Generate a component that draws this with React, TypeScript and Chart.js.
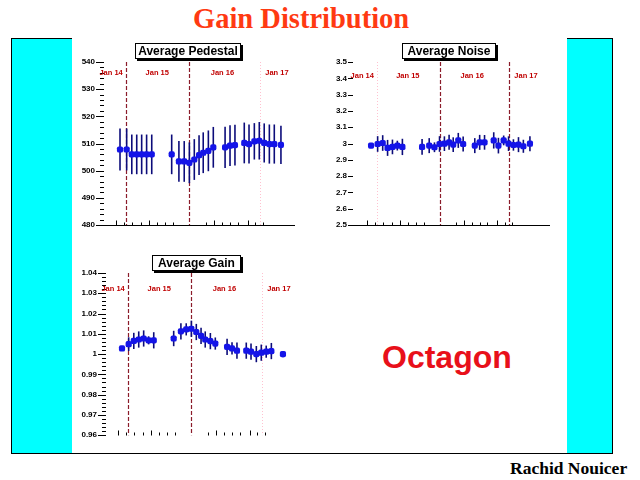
import React, { useEffect, useRef } from 'react';
import { Chart, registerables } from 'chart.js';

Chart.register(...registerables);

// run positions along the time axis (pedestal axis spans 0..100)
const runX = [7.9, 11.4, 14.1, 16.7, 19.3, 21.9, 24.6, 35.1, 38.9, 41.7, 44.4, 47.0, 49.5, 51.7, 54.4, 57.0, 63.2, 65.8, 68.4, 73.3, 75.8, 78.6, 81.2, 83.8, 86.5, 89.1, 92.6];

const pedestal = [507.8, 507.8, 506.0, 506.0, 506.0, 506.0, 506.0, 506.0, 503.4, 503.4, 502.9, 504.1, 505.7, 506.6, 507.3, 508.6, 508.6, 509.2, 509.4, 510.2, 509.8, 510.8, 511.0, 510.2, 509.8, 509.8, 509.5];
const pedestalErr = [7.7, 7.7, 7.3, 7.3, 7.3, 7.3, 7.3, 7.3, 7.5, 7.5, 7.5, 7.5, 7.3, 7.5, 7.5, 7.5, 7.6, 7.5, 7.5, 7.5, 7.2, 6.7, 6.9, 7.2, 7.2, 7.2, 7.0];

const noise = [2.987, 2.997, 3.003, 2.973, 2.979, 2.987, 2.979, 2.979, 2.987, 2.977, 2.997, 2.999, 3.007, 2.993, 3.019, 2.997, 2.987, 3.007, 3.007, 3.019, 2.987, 3.019, 2.999, 2.991, 2.993, 2.983, 2.999];
const noiseErr = [0.012, 0.048, 0.048, 0.049, 0.045, 0.03, 0.05, 0.048, 0.046, 0.03, 0.048, 0.045, 0.046, 0.045, 0.046, 0.046, 0.046, 0.046, 0.045, 0.05, 0.048, 0.03, 0.045, 0.035, 0.046, 0.04, 0.046];

const gain = [1.0028, 1.0049, 1.0065, 1.0072, 1.0077, 1.0068, 1.0068, 1.0077, 1.0112, 1.0122, 1.0125, 1.0109, 1.009, 1.0072, 1.0064, 1.0052, 1.0036, 1.0028, 1.0017, 1.0017, 1.0012, 1.0, 1.0007, 1.0012, 1.0015, null, 1.0];
const gainErr = [0.001, 0.0034, 0.004, 0.004, 0.004, 0.002, 0.004, 0.0038, 0.004, 0.003, 0.004, 0.004, 0.004, 0.004, 0.004, 0.003, 0.004, 0.003, 0.004, 0.004, 0.004, 0.004, 0.004, 0.003, 0.004, 0, 0.0015];

const dayNames = ['Jan 14', 'Jan 15', 'Jan 16', 'Jan 17'];
const dayX = [3.2, 27.5, 61.8, 90.5];
const markerX = [11.05, 44.4, 81.6];
const xMajorTicks = [5.8, 23.3, 57.5, 75.1];
const xMinorTicks = [10.1, 14.4, 18.8, 27.5, 31.7, 35.9, 53.2, 61.7, 65.8, 69.9, 79.2, 83.3];

type Panel = {
  left: number; top: number; width: number; height: number;
  padding: { left: number; top: number; right: number; bottom: number };
  values: (number | null)[]; errors: number[];
  yMin: number; yMax: number; yStep: number; yMinor: number; decimals: number;
  labelY: number; markers: string[]; xMin: number; xMax: number; xLine: boolean;
  majorLen: number; labelPad: number;
};

const panels: Panel[] = [
  {
    left: 72, top: 40, width: 240, height: 200,
    padding: { left: 3, top: 22, right: 17, bottom: 15 },
    values: pedestal, errors: pedestalErr,
    yMin: 480, yMax: 540, yStep: 10, yMinor: 5, decimals: 0,
    labelY: 536, markers: ['dash', 'dash', 'dot'], xMin: 0, xMax: 100, xLine: true,
    majorLen: 8, labelPad: 10,
  },
  {
    left: 312, top: 40, width: 250, height: 200,
    padding: { left: 12, top: 22, right: 12, bottom: 15 },
    values: noise, errors: noiseErr,
    yMin: 2.5, yMax: 3.5, yStep: 0.1, yMinor: 1, decimals: 1,
    labelY: 3.415, markers: ['dot', 'dash', 'dash'], xMin: -1.2, xMax: 103.3, xLine: true,
    majorLen: 5, labelPad: 7,
  },
  {
    left: 72, top: 250, width: 240, height: 200,
    padding: { left: 5, top: 23, right: 15, bottom: 12 },
    values: gain, errors: gainErr,
    yMin: 0.96, yMax: 1.04, yStep: 0.01, yMinor: 5, decimals: 2,
    labelY: 1.032, markers: ['dash', 'dash', 'dot'], xMin: 0, xMax: 100, xLine: false,
    majorLen: 8, labelPad: 10,
  },
];

function rootPad(p: Panel) {
  return {
    id: 'rootPad',
    beforeDatasetsDraw(chart: any) {
      const { ctx, chartArea: a, scales: { x, y } } = chart;
      ctx.save();
      p.markers.forEach((style, i) => {
        const px = Math.round(x.getPixelForValue(markerX[i])) + 0.5;
        ctx.beginPath();
        if (style === 'dash') {
          ctx.strokeStyle = '#8b1c2a';
          ctx.setLineDash([4, 2]);
          ctx.lineWidth = 1.2;
        } else {
          ctx.strokeStyle = '#ffc2d0';
          ctx.setLineDash([1, 2]);
          ctx.lineWidth = 1;
        }
        ctx.moveTo(px, a.top);
        ctx.lineTo(px, a.bottom);
        ctx.stroke();
      });
      ctx.setLineDash([]);
      // error bars
      ctx.strokeStyle = '#0c0c7a';
      ctx.lineWidth = 1.6;
      p.values.forEach((v, i) => {
        if (v == null || !p.errors[i]) return;
        const px = x.getPixelForValue(runX[i]);
        ctx.beginPath();
        ctx.moveTo(px, y.getPixelForValue(v + p.errors[i]));
        ctx.lineTo(px, y.getPixelForValue(v - p.errors[i]));
        ctx.stroke();
      });
      ctx.restore();
    },
    afterDraw(chart: any) {
      const { ctx, chartArea: a, scales: { x, y } } = chart;
      ctx.save();
      ctx.strokeStyle = '#000';
      ctx.lineWidth = 1;
      ctx.beginPath();
      const tickX = a.left - 1;
      const majors = y.ticks.map((t: any) => t.value);
      majors.forEach((v: number, i: number) => {
        const py = Math.round(y.getPixelForValue(v)) + 0.5;
        ctx.moveTo(tickX - p.majorLen, py);
        ctx.lineTo(tickX, py);
        if (i < majors.length - 1 && p.yMinor > 1) {
          const step = (majors[i + 1] - v) / p.yMinor;
          for (let k = 1; k < p.yMinor; k++) {
            const my = Math.round(y.getPixelForValue(v + k * step)) + 0.5;
            ctx.moveTo(tickX - 4, my);
            ctx.lineTo(tickX, my);
          }
        }
      });
      const base = Math.round(a.bottom) + 0.5;
      xMajorTicks.forEach((v) => {
        const px = Math.round(x.getPixelForValue(v)) + 0.5;
        ctx.moveTo(px, base);
        ctx.lineTo(px, base - 5);
      });
      xMinorTicks.forEach((v) => {
        const px = Math.round(x.getPixelForValue(v)) + 0.5;
        ctx.moveTo(px, base);
        ctx.lineTo(px, base - 3);
      });
      if (p.xLine) {
        ctx.moveTo(a.left - 2, base);
        ctx.lineTo(a.right, base);
      }
      ctx.stroke();
      ctx.fillStyle = '#c00000';
      ctx.font = 'bold 7.5px "Liberation Sans"';
      ctx.textAlign = 'center';
      ctx.textBaseline = 'middle';
      dayNames.forEach((name, i) => {
        ctx.fillText(name, x.getPixelForValue(dayX[i]), y.getPixelForValue(p.labelY));
      });
      ctx.restore();
    },
  };
}

function PadChart({ panel }: { panel: Panel }) {
  const canvasRef = useRef<HTMLCanvasElement>(null);

  useEffect(() => {
    if (!canvasRef.current) return;
    const chart = new Chart(canvasRef.current, {
      type: 'scatter',
      data: {
        datasets: [{
          data: panel.values.map((v, i) => ({ x: runX[i], y: v })),
          pointStyle: 'rectRounded',
          pointRadius: 3.6,
          backgroundColor: '#1414e8',
          borderWidth: 0,
        }],
      },
      options: {
        animation: false,
        responsive: false,
        events: [],
        layout: { padding: panel.padding },
        plugins: { legend: { display: false }, tooltip: { enabled: false } },
        scales: {
          x: { type: 'linear', display: false, min: panel.xMin, max: panel.xMax },
          y: {
            min: panel.yMin,
            max: panel.yMax,
            afterFit: (scale: any) => { scale.width = 30; },
            grid: { display: false, drawTicks: false },
            border: { display: false },
            ticks: {
              stepSize: panel.yStep,
              autoSkip: false,
              padding: panel.labelPad,
              color: '#000',
              font: { family: 'Liberation Sans', size: 8, weight: 'bold' },
              callback: (v: any) => String(Number(Number(v).toFixed(panel.decimals))),
            },
          },
        },
      },
      plugins: [rootPad(panel)],
    });
    return () => chart.destroy();
  }, [panel]);

  return (
    <canvas
      ref={canvasRef}
      width={panel.width}
      height={panel.height}
      style={{ position: 'absolute', left: panel.left, top: panel.top, width: panel.width, height: panel.height }}
    />
  );
}

const titleBox = (left: number, top: number, width: number, text: string) => (
  <div
    style={{
      position: 'absolute', left, top, width, height: 16, boxSizing: 'border-box',
      border: '1px solid #000', boxShadow: '2px 2px 0 #000', background: '#fff',
      font: 'bold 12px "Liberation Sans"', lineHeight: '14px', textAlign: 'center', color: '#000',
      whiteSpace: 'nowrap',
    }}
  >
    {text}
  </div>
);

export default function App() {
  return (
    <div style={{ position: 'fixed', left: 0, top: 0, width: 640, height: 480, background: '#fff', overflow: 'hidden' }}>
      <div style={{ position: 'absolute', left: 193, top: 4, font: 'bold 28.5px "Liberation Serif"', lineHeight: '29px', color: '#ff3a12', whiteSpace: 'nowrap' }}>
        Gain Distribution
      </div>
      <div style={{ position: 'absolute', left: 11, top: 38, width: 602, height: 416, boxSizing: 'border-box', background: '#00ffff', border: '1px solid #000' }} />
      <div style={{ position: 'absolute', left: 72, top: 37, width: 495, height: 416, background: '#fff' }} />
      {panels.map((p, i) => <PadChart key={i} panel={p} />)}
      {titleBox(135, 43, 106, 'Average Pedestal')}
      {titleBox(402, 43, 94, 'Average Noise')}
      {titleBox(152, 255, 89, 'Average Gain')}
      <div style={{ position: 'absolute', left: 382, top: 341, font: 'bold 32px "Liberation Sans"', lineHeight: '32px', color: '#e8101a', whiteSpace: 'nowrap' }}>
        Octagon
      </div>
      <div style={{ position: 'absolute', left: 510, top: 459.5, font: 'bold 17.5px "Liberation Serif"', lineHeight: '17.5px', color: '#000', whiteSpace: 'nowrap' }}>
        Rachid Nouicer
      </div>
    </div>
  );
}
